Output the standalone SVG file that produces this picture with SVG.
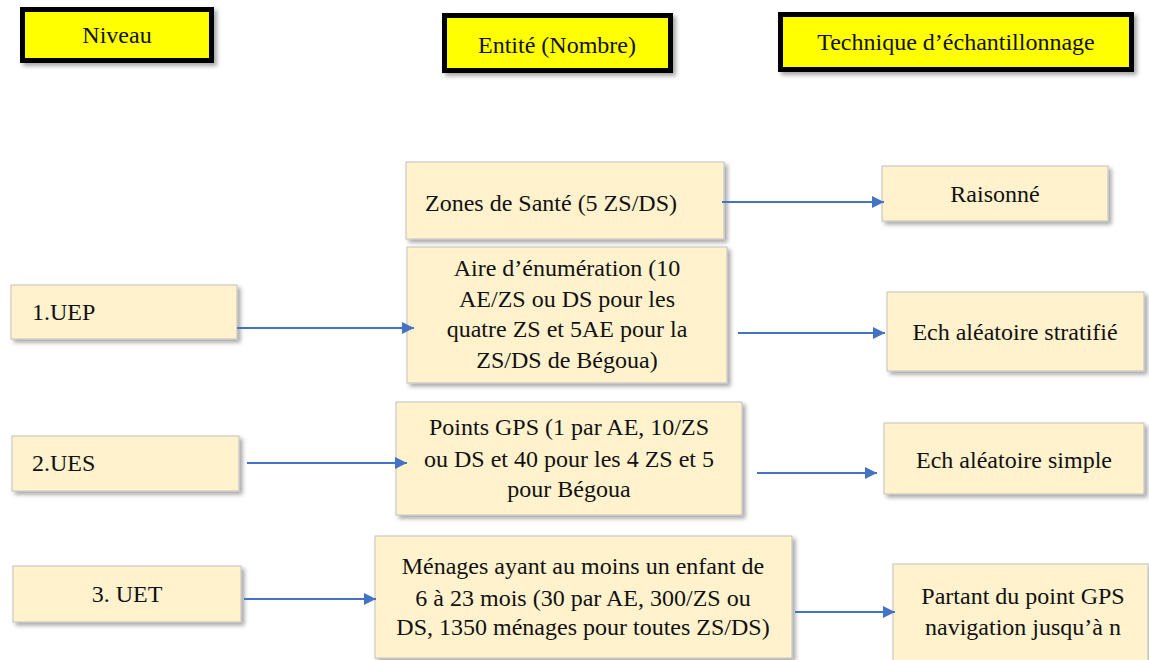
<svg xmlns="http://www.w3.org/2000/svg" width="1149" height="660" viewBox="0 0 1149 660">
<defs>
<style>
.hdr{fill:#FFFF00;stroke:#000;stroke-width:5}
.box{fill:#FFF2CC;stroke:#BFBFBF;stroke-width:1}
text{font-family:'Liberation Serif','Times New Roman',serif;font-size:24px;fill:#111}
.c{text-anchor:middle}
.conn{stroke:#4472C4;stroke-width:2;fill:none}
</style>
<filter id="sh" x="-10%" y="-10%" width="130%" height="140%">
<feDropShadow dx="3" dy="3" stdDeviation="2" flood-color="#000" flood-opacity="0.35"/>
</filter>
<marker id="ah" markerUnits="userSpaceOnUse" markerWidth="12" markerHeight="12" viewBox="0 0 12 12" refX="12" refY="6" orient="auto">
<path d="M0,0 L12,6 L0,12 z" fill="#4472C4"/>
</marker>
</defs>
<rect width="1149" height="660" fill="#fff"/>
<g font-family="Liberation Serif, serif" font-size="24">

<g id="niveau">
<rect class="hdr" x="22.5" y="9.5" width="189" height="51" filter="url(#sh)"/>
<text class="c" x="117" y="43">Niveau</text>
</g>
<g id="entite">
<rect class="hdr" x="444.5" y="15.5" width="226" height="55" filter="url(#sh)"/>
<text class="c" x="557" y="53">Entité (Nombre)</text>
</g>
<g id="technique">
<rect class="hdr" x="780.5" y="14.5" width="351" height="55" filter="url(#sh)"/>
<text class="c" x="956" y="50">Technique d’échantillonnage</text>
</g>

<g id="zones">
<rect class="box" x="406" y="162" width="318" height="77" filter="url(#sh)"/>
<text x="425" y="211">Zones de Santé (5 ZS/DS)</text>
</g>
<g id="aire">
<rect class="box" x="407" y="247" width="320" height="136" filter="url(#sh)"/>
<text class="c"><tspan x="567" y="276">Aire d’énumération (10</tspan><tspan x="567" y="307">AE/ZS ou DS pour les</tspan><tspan x="567" y="337">quatre ZS et 5AE pour la</tspan><tspan x="567" y="368">ZS/DS de Bégoua)</tspan></text>
</g>
<g id="raisonne">
<rect class="box" x="882" y="166" width="226" height="55" filter="url(#sh)"/>
<text class="c" x="995" y="202">Raisonné</text>
</g>
<g id="stratifie">
<rect class="box" x="887" y="292" width="257" height="79" filter="url(#sh)"/>
<text class="c" x="1015" y="340">Ech aléatoire stratifié</text>
</g>
<g id="uep">
<rect class="box" x="11" y="285" width="226" height="54" filter="url(#sh)"/>
<text x="32" y="320">1.UEP</text>
</g>
<g id="ues">
<rect class="box" x="12" y="436" width="227" height="55" filter="url(#sh)"/>
<text x="32" y="471">2.UES</text>
</g>
<g id="uet">
<rect class="box" x="13" y="566" width="228" height="56" filter="url(#sh)"/>
<text class="c" x="127" y="602">3. UET</text>
</g>
<g id="gps">
<rect class="box" x="396" y="402" width="346" height="113" filter="url(#sh)"/>
<text class="c"><tspan x="569" y="435">Points GPS (1 par AE, 10/ZS</tspan><tspan x="569" y="467">ou DS et 40 pour les 4 ZS et 5</tspan><tspan x="569" y="497">pour Bégoua</tspan></text>
</g>
<g id="menages">
<rect class="box" x="375" y="536" width="417" height="122" filter="url(#sh)"/>
<text class="c"><tspan x="583" y="574">Ménages ayant au moins un enfant de</tspan><tspan x="583" y="606">6 à 23 mois (30 par AE, 300/ZS ou</tspan><tspan x="583" y="635">DS, 1350 ménages pour toutes ZS/DS)</tspan></text>
</g>
<g id="simple">
<rect class="box" x="884" y="423" width="260" height="71" filter="url(#sh)"/>
<text class="c" x="1014" y="468">Ech aléatoire simple</text>
</g>
<g id="partant">
<rect class="box" x="893" y="564" width="255" height="100" filter="url(#sh)"/>
<text class="c"><tspan x="1023" y="604">Partant du point GPS</tspan><tspan x="1023" y="635">navigation jusqu’à n</tspan></text>
</g>
</g>

<g id="connectors">
<line class="conn" x1="722" y1="202" x2="884" y2="202" marker-end="url(#ah)"/>
<line class="conn" x1="237" y1="328" x2="414" y2="328" marker-end="url(#ah)"/>
<line class="conn" x1="738" y1="333" x2="885" y2="333" marker-end="url(#ah)"/>
<line class="conn" x1="247" y1="463" x2="407" y2="463" marker-end="url(#ah)"/>
<line class="conn" x1="757" y1="473" x2="877" y2="473" marker-end="url(#ah)"/>
<line class="conn" x1="244" y1="599" x2="376" y2="599" marker-end="url(#ah)"/>
<line class="conn" x1="795" y1="612" x2="895" y2="612" marker-end="url(#ah)"/>
</g>
</svg>
